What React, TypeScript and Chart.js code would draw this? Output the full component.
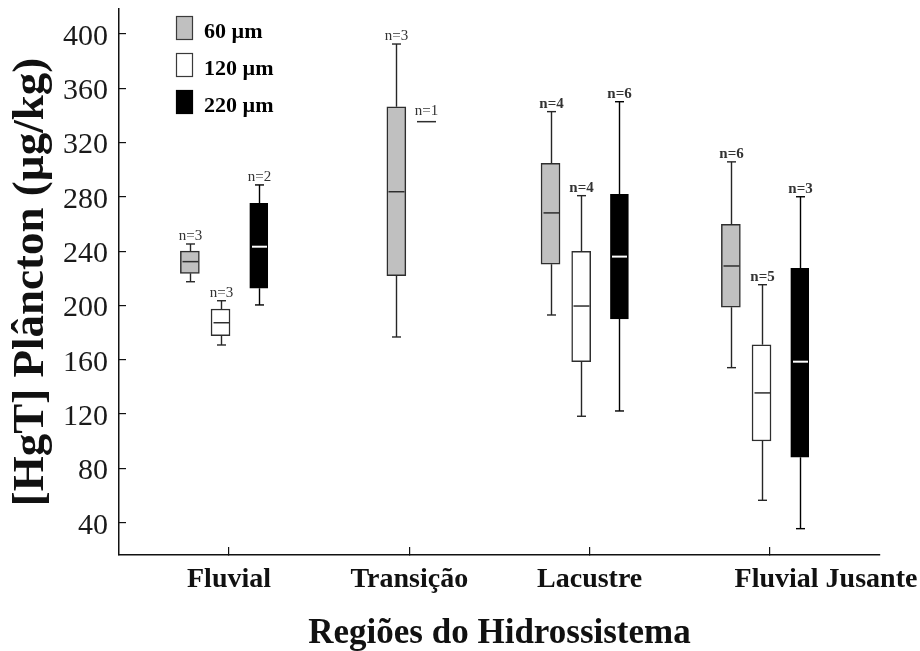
import { useEffect, useRef } from 'react';
import { Chart, registerables } from 'chart.js';

Chart.register(...registerables);

const categories = ['Fluvial', 'Transição', 'Lacustre', 'Fluvial Jusante'];
const sizeLabels = ['60 µm', '120 µm', '220 µm'];
const yTicks = [40, 80, 120, 160, 200, 240, 280, 320, 360, 400];

// Five-number summaries per region: [min, q1, median, q3, max]
const box60 = [
  [217.5, 223.7, 232.3, 240.1, 245.3],
  [176.8, 222.0, 283.8, 346.4, 392.6],
  [193.0, 230.4, 268.2, 304.8, 342.8],
  [154.2, 198.7, 229.1, 259.8, 305.8],
];
const box120 = [
  [170.9, 177.7, 187.3, 197.4, 203.5],
  [335.4, 335.4, 335.4, 335.4, 335.4],
  [118.4, 158.6, 199.6, 239.9, 280.9],
  [56.5, 100.2, 135.6, 171.1, 215.3],
];
const box220 = [
  [200.4, 212.7, 243.3, 275.3, 288.8],
  null,
  [122.3, 190.1, 236.0, 281.9, 350.1],
  [35.6, 88.2, 158.6, 227.4, 280.1],
];

// Sample counts per region
const count60 = [3, 3, 4, 6];
const count120 = [3, 1, 4, 5];
const count220 = [2, null, 6, 3];

const SERIF = '"Liberation Serif", "Times New Roman", serif';

const seriesBoxes = [box60, box120, box220];
const seriesCounts = [count60, count120, count220];
const seriesStyle = [
  { fill: '#c0c0c0', edge: '#2e2e2e', median: '#2e2e2e', medianWidth: 1.5, width: 19 },
  { fill: '#ffffff', edge: '#2e2e2e', median: '#2e2e2e', medianWidth: 1.5, width: 19 },
  { fill: '#000000', edge: '#000000', median: '#ffffff', medianWidth: 2, width: 18 },
];
// regions whose count labels are set in bold
const boldCountRegions = new Set([2, 3]);

// horizontal slot offsets (in category units) by number of boxes in a region
const GROUP_OFFSETS: Record<number, number[]> = {
  1: [0],
  2: [-0.072, 0.094],
  3: [-0.217, -0.047, 0.165],
};

function boxPosition(si: number, ci: number): number {
  const present = seriesBoxes.map((b, i) => (b[ci] ? i : -1)).filter((i) => i >= 0);
  const slot = present.indexOf(si);
  return ci + 1 + GROUP_OFFSETS[present.length][slot];
}

// the last region name sits a little to the right of its tick
function categoryLabel(i: number): string {
  const name = categories[i] ?? '';
  return i === categories.length - 1 ? '\u2002'.repeat(8) + name : name;
}

const boxPlotMarks = {
  id: 'boxPlotMarks',
  afterDatasetsDraw(chart: any) {
    const { ctx } = chart;
    const x = chart.scales.x;
    const y = chart.scales.y;
    const line = (x1: number, y1: number, x2: number, y2: number) => {
      ctx.beginPath();
      ctx.moveTo(x1, y1);
      ctx.lineTo(x2, y2);
      ctx.stroke();
    };
    ctx.save();
    seriesBoxes.forEach((boxes, si) => {
      const st = seriesStyle[si];
      boxes.forEach((b, ci) => {
        if (!b) return;
        const cx = Math.round(x.getPixelForValue(boxPosition(si, ci))) + 0.5;
        const [lo, q1, med, q3, hi] = b.map((v) => y.getPixelForValue(v));
        const half = st.width / 2;
        ctx.lineCap = 'butt';
        ctx.strokeStyle = si === 2 ? '#000' : '#262626';
        ctx.lineWidth = 1.4;
        if (hi < q3 - 0.5) {
          line(cx, q3, cx, hi);
          line(cx - 4.5, hi, cx + 4.5, hi);
        }
        if (lo > q1 + 0.5) {
          line(cx, q1, cx, lo);
          line(cx - 4.5, lo, cx + 4.5, lo);
        }
        const single = q3 >= q1 - 0.5;
        ctx.strokeStyle = st.median;
        ctx.lineWidth = st.medianWidth;
        if (single) {
          line(cx - half, med, cx + half, med);
        } else {
          line(cx - half + 1.5, med, cx + half - 1.5, med);
        }
        const n = seriesCounts[si][ci];
        if (n != null) {
          ctx.font = `${boldCountRegions.has(ci) ? 'bold ' : ''}15px ${SERIF}`;
          ctx.fillStyle = '#333';
          ctx.textAlign = 'center';
          ctx.textBaseline = 'alphabetic';
          ctx.fillText(`n=${n}`, cx, hi - (single ? 7 : 4));
        }
      });
    });
    ctx.restore();
  },
  afterDraw(chart: any) {
    const { ctx } = chart;
    ctx.save();
    const left = 176;
    const tops = [16, 53, 90];
    sizeLabels.forEach((label, i) => {
      const st = seriesStyle[i];
      ctx.fillStyle = st.fill;
      ctx.fillRect(left, tops[i], 17, 24);
      ctx.strokeStyle = i === 2 ? '#000' : '#3a3a3a';
      ctx.lineWidth = 1.2;
      ctx.strokeRect(left + 0.5, tops[i] + 0.5, 16, 23);
      ctx.fillStyle = '#000';
      ctx.font = `bold 22px ${SERIF}`;
      ctx.textAlign = 'left';
      ctx.textBaseline = 'middle';
      ctx.fillText(label, 204, tops[i] + 16);
    });
    ctx.restore();
  },
};

export default function App() {
  const canvasRef = useRef<HTMLCanvasElement>(null);

  useEffect(() => {
    if (!canvasRef.current) return;
    const datasets = seriesBoxes.map((boxes, si) => ({
      type: 'bar' as const,
      label: sizeLabels[si],
      data: boxes
        .map((b, ci) => (b && b[3] > b[1] ? { x: boxPosition(si, ci), y: [b[1], b[3]] } : null))
        .filter(Boolean),
      backgroundColor: seriesStyle[si].fill,
      borderColor: seriesStyle[si].edge,
      borderWidth: 1.5,
      borderSkipped: false,
      barThickness: seriesStyle[si].width,
      grouped: false,
    }));

    const chart = new Chart(canvasRef.current, {
      type: 'bar',
      data: { datasets: datasets as any },
      options: {
        animation: false,
        responsive: false,
        devicePixelRatio: 1,
        layout: { padding: { top: 9, right: 40, bottom: 0, left: 0 } },
        plugins: {
          legend: { display: false },
          tooltip: { enabled: false },
        },
        scales: {
          x: {
            type: 'linear',
            min: 0.39,
            max: 4.61,
            offset: false,
            afterBuildTicks: (scale: any) => {
              scale.ticks = categories.map((_, i) => ({ value: i + 1 }));
            },
            afterFit: (scale: any) => {
              scale.height = 96;
              scale.paddingLeft = 0;
              scale.paddingRight = 0;
            },
            border: { display: true, color: '#111', width: 1.5 },
            grid: {
              display: true,
              offset: false,
              drawOnChartArea: false,
              drawTicks: true,
              tickLength: -8,
              color: '#111',
              lineWidth: 1.2,
            },
            ticks: {
              autoSkip: false,
              maxRotation: 0,
              minRotation: 0,
              padding: 16,
              color: '#111',
              font: { family: SERIF, size: 28, weight: 'bold' },
              callback: (value: any) => categoryLabel(Math.round(Number(value)) - 1),
            },
            title: {
              display: true,
              text: 'Regiões do Hidrossistema',
              color: '#111',
              font: { family: SERIF, size: 35, weight: 'bold', lineHeight: 1 },
              padding: { top: 0, bottom: 0 },
            },
          },
          y: {
            type: 'linear',
            min: 16.2,
            max: 418.4,
            afterBuildTicks: (scale: any) => {
              scale.ticks = yTicks.map((value) => ({ value }));
            },
            afterFit: (scale: any) => {
              scale.width = 119;
              scale.paddingTop = 0;
              scale.paddingBottom = 0;
            },
            border: { display: true, color: '#111', width: 1.5 },
            grid: {
              display: true,
              drawOnChartArea: false,
              drawTicks: true,
              tickLength: -7,
              color: '#111',
              lineWidth: 1.2,
            },
            ticks: {
              padding: 18,
              labelOffset: 3,
              color: '#1a1a1a',
              font: { family: SERIF, size: 30 },
            },
            title: {
              display: true,
              text: '[HgT] Plâncton (µg/kg)',
              color: '#111',
              font: { family: SERIF, size: 45, weight: 'bold', lineHeight: 1 },
              padding: { top: 9, bottom: 0 },
            },
          },
        },
      },
      plugins: [boxPlotMarks],
    });

    return () => chart.destroy();
  }, []);

  return (
    <div style={{ position: 'absolute', left: 0, top: 0, width: 920, height: 651, background: '#fff' }}>
      <canvas ref={canvasRef} width={920} height={651} style={{ display: 'block' }} />
    </div>
  );
}
